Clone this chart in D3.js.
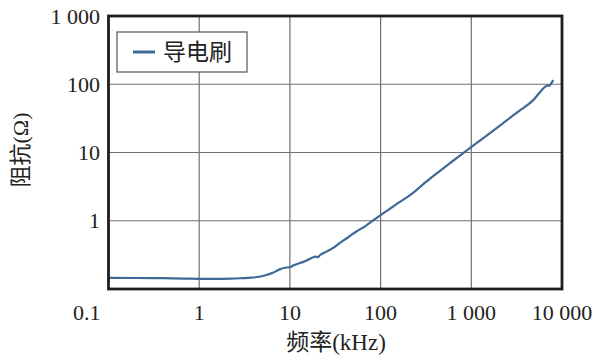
<!DOCTYPE html>
<html lang="zh">
<head>
<meta charset="UTF-8">
<title>阻抗-频率</title>
<style>
    body { margin: 0; background: #fff; }
    svg { display: block; }
    text { font-family: "Liberation Serif", "Noto Sans CJK SC", serif; fill: #222; }
    .grid line { stroke: #707070; stroke-width: 1.2px; }
</style>
</head>
<body>
<svg id="chart" width="599" height="362"></svg>
<script src="https://d3js.org/d3.v7.min.js"></script>
<script>
    // frequency (kHz) and impedance (ohm)
    const freq = [0.102, 0.2, 0.4, 0.7, 1, 1.5, 2.2, 2.8, 3.5, 4.6, 5.5, 6.5, 7.7, 8.8, 9.9, 11, 12.7,
        15.1, 17.8, 19, 20.3, 21.5, 23.1, 25, 27.3, 30, 35, 42, 53.6, 68, 80, 99, 125, 158, 200,
        241, 324, 420, 550, 700, 938, 1300, 2000, 2450, 3435, 4820, 5970, 6490, 7060, 7300, 7500, 8010];
    const impedance = [0.146, 0.145, 0.144, 0.142, 0.141, 0.141, 0.142, 0.1436, 0.146, 0.151, 0.16,
        0.173, 0.194, 0.205, 0.208, 0.222, 0.238, 0.26, 0.29, 0.298, 0.293, 0.315, 0.333, 0.35, 0.372,
        0.40, 0.467, 0.55, 0.69, 0.836, 0.98, 1.2, 1.48, 1.84, 2.25, 2.72, 3.8, 5.0, 6.6, 8.4, 11.3,
        15.6, 24, 29.5, 41.4, 58.5, 82, 91.7, 96, 95, 100, 115];

    const xTicks = [0.1, 1, 10, 100, 1000, 10000];
    const xTickLabels = ["0.1", "1", "10", "100", "1 000", "10 000"];
    const yTicks = [1000, 100, 10, 1];
    const yTickLabels = ["1 000", "100", "10", "1"];
    const seriesName = "导电刷";

    const svg = d3.select("#chart");
    const margin = { left: 108.5, right: 37, top: 16, bottom: 73 };
    const width = 599, height = 362;

    const x = d3.scaleLog().domain([0.1, 10000]).range([margin.left, width - margin.right]);
    const y = d3.scaleLog().domain([0.1, 1000]).range([height - margin.bottom, margin.top]);

    // grid
    const grid = svg.append("g").attr("class", "grid");
    grid.selectAll(".vx").data(xTicks.slice(1, -1)).enter().append("line")
        .attr("x1", d => x(d)).attr("x2", d => x(d))
        .attr("y1", y(1000)).attr("y2", y(0.1));
    grid.selectAll(".hy").data(yTicks.slice(1)).enter().append("line")
        .attr("x1", x(0.1)).attr("x2", x(10000))
        .attr("y1", d => y(d)).attr("y2", d => y(d));

    // curve
    const pts = freq.map((f, i) => [f, impedance[i]]);
    const line = d3.line().x(d => x(d[0])).y(d => y(d[1])).curve(d3.curveMonotoneX);
    svg.append("path").datum(pts)
        .attr("d", line)
        .attr("fill", "none")
        .attr("stroke", "#3d6a96")
        .attr("stroke-width", 2.2)
        .attr("stroke-linejoin", "round");

    // frame
    svg.append("rect")
        .attr("x", x(0.1)).attr("y", y(1000))
        .attr("width", x(10000) - x(0.1)).attr("height", y(0.1) - y(1000))
        .attr("fill", "none").attr("stroke", "#1e1e1e").attr("stroke-width", 2.8);

    // x tick labels
    svg.selectAll(".xl").data(xTicks).enter().append("text")
        .attr("x", (d, i) => i === 0 ? x(d) - 8 : x(d))
        .attr("y", 320)
        .attr("text-anchor", (d, i) => i === 0 ? "end" : "middle")
        .attr("font-size", 22)
        .text((d, i) => xTickLabels[i]);

    // y tick labels
    svg.selectAll(".yl").data(yTicks).enter().append("text")
        .attr("x", 100)
        .attr("y", d => y(d))
        .attr("dy", "0.35em")
        .attr("text-anchor", "end")
        .attr("font-size", 22)
        .text((d, i) => yTickLabels[i]);

    // axis titles
    svg.append("text")
        .attr("x", 336).attr("y", 350)
        .attr("text-anchor", "middle")
        .attr("font-size", 23)
        .text("频率(kHz)");
    svg.append("text")
        .attr("transform", "translate(28,150) rotate(-90)")
        .attr("text-anchor", "middle")
        .attr("font-size", 22)
        .text("阻抗(Ω)");

    // legend
    const lg = svg.append("g");
    lg.append("rect").attr("x", 117).attr("y", 32).attr("width", 130).attr("height", 40)
        .attr("fill", "#fff").attr("stroke", "#555").attr("stroke-width", 1.2);
    lg.append("line").attr("x1", 133).attr("x2", 155).attr("y1", 52).attr("y2", 52)
        .attr("stroke", "#3d6a96").attr("stroke-width", 3);
    lg.append("text").attr("x", 163).attr("y", 60).attr("font-size", 23)
        .style("font-family", "'Noto Sans CJK SC', sans-serif")
        .text(seriesName);
</script>
</body>
</html>
